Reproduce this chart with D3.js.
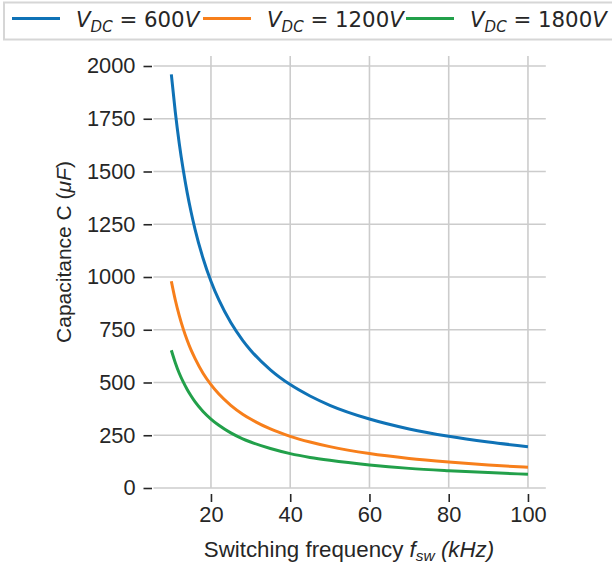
<!DOCTYPE html>
<html>
<head>
<meta charset="utf-8">
<script src="https://cdn.jsdelivr.net/npm/d3@7"></script>
<style>
  body { margin: 0; background: #fff; }
  svg { display: block; }
  text { font-family: "Liberation Sans", Arial, sans-serif; fill: #262626; }
  .math { font-family: "DejaVu Sans", sans-serif; }
</style>
</head>
<body>
<svg id="chart" width="612" height="569"></svg>
<script>
// Switching frequency (kHz)
const freq = [10, 11, 12, 13, 14, 15, 16, 18, 20, 22, 25, 28, 30, 35, 40, 45, 50, 60, 70, 80, 90, 100];
// Required capacitance (µF) for each DC-link voltage
const cap600  = [1960, 1782, 1633, 1508, 1400, 1307, 1225, 1089, 980, 891, 784, 700, 653, 560, 490, 436, 392, 327, 280, 245, 218, 196];
const cap1200 = [980, 891, 817, 754, 700, 653, 613, 544, 490, 445, 392, 350, 327, 280, 245, 218, 196, 163, 140, 123, 109, 98];
const cap1800 = [653, 594, 544, 503, 467, 436, 408, 363, 327, 297, 261, 233, 218, 187, 163, 145, 131, 109, 93, 82, 73, 65];
const seriesVolt = ["600", "1200", "1800"];
const seriesVals = [cap600, cap1200, cap1800];
const colors = ["#0f72b6", "#f77f1b", "#22a04a"];
const xTicks = [20, 40, 60, 80, 100];
const yTicks = [0, 250, 500, 750, 1000, 1250, 1500, 1750, 2000];

const svg = d3.select("#chart");

const x = d3.scaleLinear().domain([5.5, 104.5]).range([153.5, 545.8]);
const y = d3.scaleLinear().domain([0, 2000]).range([488, 66]);
const yTop = 56;

// grid
const grid = svg.append("g");
grid.selectAll("line.v").data(xTicks).join("line")
  .attr("x1", d => x(d)).attr("x2", d => x(d))
  .attr("y1", yTop).attr("y2", y(0))
  .attr("stroke", "#cccccc").attr("stroke-width", 1.6);
grid.selectAll("line.h").data(yTicks).join("line")
  .attr("x1", x.range()[0]).attr("x2", x.range()[1])
  .attr("y1", d => y(d)).attr("y2", d => y(d))
  .attr("stroke", "#cccccc").attr("stroke-width", 1.6);

// offset axes without spines
const xAxis = svg.append("g").attr("transform", "translate(0,494)")
  .call(d3.axisBottom(x).tickValues(xTicks).tickSize(8).tickPadding(5).tickFormat(d3.format("d")));
const yAxis = svg.append("g").attr("transform", "translate(152,0)")
  .call(d3.axisLeft(y).tickValues(yTicks).tickSize(8.5).tickPadding(8).tickFormat(d3.format("d")));
[xAxis, yAxis].forEach(a => {
  a.select(".domain").remove();
  a.selectAll(".tick line").attr("stroke", "#262626").attr("stroke-width", 1.6);
  a.selectAll(".tick text").attr("font-size", 21.8).attr("fill", "#262626")
    .attr("font-family", "Liberation Sans, Arial, sans-serif");
});

// curves
const line = d3.line().x((d, i) => x(freq[i])).y(d => y(d)).curve(d3.curveMonotoneX);
svg.append("g").selectAll("path").data(seriesVals).join("path")
  .attr("d", d => line(d))
  .attr("fill", "none")
  .attr("stroke", (d, i) => colors[i])
  .attr("stroke-width", 3);

// axis titles
const xl = svg.append("text").attr("x", 349).attr("y", 557).attr("text-anchor", "middle").attr("font-size", 22.3);
xl.append("tspan").text("Switching frequency ");
xl.append("tspan").attr("font-style", "italic").text("f");
xl.append("tspan").attr("font-style", "italic").attr("font-size", 15.5).attr("dy", 4).text("sw");
xl.append("tspan").attr("font-style", "italic").attr("dy", -4).text(" (kHz)");

const yl = svg.append("text").attr("transform", "translate(71,252) rotate(-90)")
  .attr("text-anchor", "middle").attr("font-size", 21);
yl.append("tspan").text("Capacitance C (");
yl.append("tspan").attr("font-style", "italic").text("μF");
yl.append("tspan").text(")");

// legend
const leg = svg.append("g");
leg.append("rect").attr("x", 4).attr("y", 2.5).attr("width", 620).attr("height", 37)
  .attr("fill", "#fff").attr("stroke", "#d6d6d6").attr("stroke-width", 2);
const legX = [12, 203, 406];
seriesVolt.forEach((v, i) => {
  const g = leg.append("g").attr("transform", `translate(${legX[i]},0)`);
  g.append("line").attr("x1", 0).attr("x2", 48).attr("y1", 18.5).attr("y2", 18.5)
    .attr("stroke", colors[i]).attr("stroke-width", 3);
  const t = g.append("text").attr("class", "math").attr("x", 64).attr("y", 27).attr("font-size", 21.3);
  t.append("tspan").attr("font-style", "italic").text("V");
  t.append("tspan").attr("font-style", "italic").attr("font-size", 15).attr("dy", 4.5).text("DC");
  t.append("tspan").attr("dy", -4.5).text(" = " + v);
  t.append("tspan").attr("font-style", "italic").text("V");
});
</script>
</body>
</html>
